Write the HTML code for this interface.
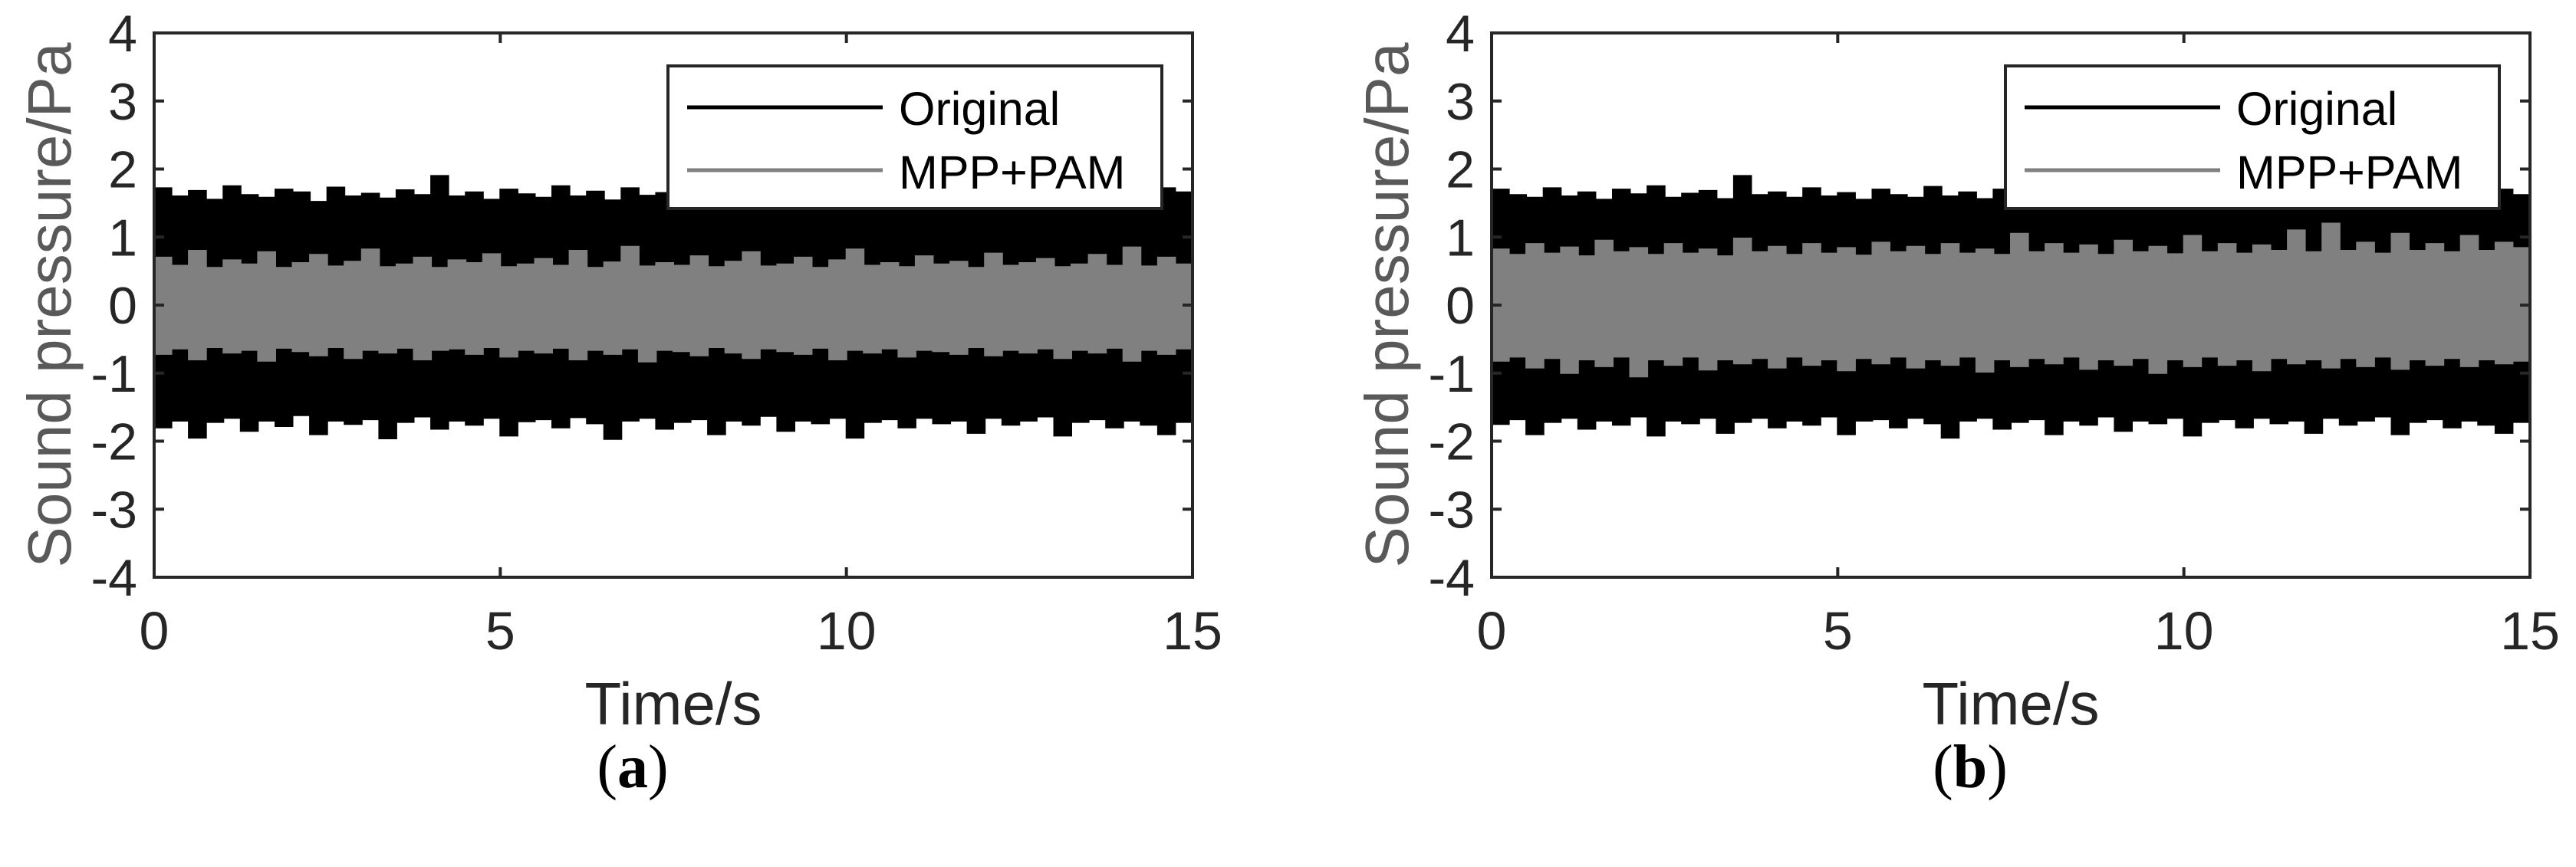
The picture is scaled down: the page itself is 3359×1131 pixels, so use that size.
<!DOCTYPE html>
<html><head><meta charset="utf-8">
<style>
html,body{margin:0;padding:0;background:#fff;}
svg{display:block;}
</style></head>
<body>
<svg id="fig" width="3359" height="1131" viewBox="0 0 3359 1131" xmlns="http://www.w3.org/2000/svg"></svg>
<script>
// Envelope values (Pa), 60 bins across 0–15 s
const origUpperA=[1.72,1.6,1.68,1.55,1.75,1.62,1.58,1.7,1.66,1.52,1.73,1.6,1.64,1.57,1.69,1.62,1.9,1.6,1.66,1.55,1.7,1.63,1.58,1.75,1.6,1.67,1.54,1.72,1.61,1.65,1.78,1.58,1.63,1.7,1.56,1.66,1.6,1.73,1.55,1.64,1.69,1.58,1.72,1.6,1.66,1.53,1.7,1.62,1.57,1.74,1.6,1.65,1.68,1.56,1.71,1.6,1.64,1.58,1.72,1.66];
const origLowerA=[-1.8,-1.7,-1.95,-1.72,-1.66,-1.85,-1.7,-1.78,-1.62,-1.9,-1.7,-1.75,-1.68,-1.96,-1.72,-1.64,-1.82,-1.7,-1.76,-1.66,-1.92,-1.71,-1.68,-1.8,-1.65,-1.74,-1.97,-1.7,-1.66,-1.82,-1.72,-1.68,-1.9,-1.7,-1.76,-1.63,-1.85,-1.7,-1.74,-1.66,-1.95,-1.72,-1.68,-1.8,-1.66,-1.74,-1.7,-1.88,-1.66,-1.76,-1.7,-1.64,-1.92,-1.72,-1.68,-1.8,-1.7,-1.76,-1.9,-1.72];
const mppUpperA=[0.7,0.58,0.8,0.55,0.66,0.6,0.78,0.55,0.62,0.74,0.57,0.64,0.82,0.56,0.6,0.7,0.55,0.66,0.62,0.75,0.56,0.6,0.68,0.58,0.8,0.55,0.63,0.86,0.57,0.62,0.58,0.72,0.56,0.64,0.78,0.57,0.6,0.7,0.55,0.66,0.82,0.58,0.62,0.56,0.72,0.6,0.64,0.55,0.76,0.58,0.62,0.68,0.56,0.6,0.74,0.58,0.85,0.57,0.7,0.6];
const mppLowerA=[-0.72,-0.64,-0.8,-0.62,-0.7,-0.66,-0.82,-0.63,-0.68,-0.74,-0.62,-0.78,-0.66,-0.7,-0.63,-0.8,-0.66,-0.64,-0.72,-0.62,-0.76,-0.66,-0.7,-0.63,-0.8,-0.66,-0.72,-0.64,-0.83,-0.66,-0.68,-0.74,-0.62,-0.7,-0.78,-0.64,-0.68,-0.72,-0.63,-0.8,-0.66,-0.7,-0.64,-0.76,-0.66,-0.68,-0.72,-0.62,-0.74,-0.66,-0.7,-0.64,-0.78,-0.66,-0.7,-0.63,-0.82,-0.66,-0.72,-0.64];
const origUpperB=[1.7,1.62,1.58,1.72,1.6,1.66,1.55,1.7,1.63,1.75,1.58,1.64,1.68,1.56,1.9,1.62,1.66,1.58,1.72,1.6,1.65,1.55,1.7,1.62,1.58,1.74,1.6,1.66,1.56,1.7,1.62,1.6,1.66,1.55,1.72,1.62,1.58,1.68,1.6,1.64,1.56,1.7,1.62,1.66,1.58,1.72,1.6,1.64,1.56,1.7,1.62,1.66,1.58,1.68,1.6,1.64,1.72,1.58,1.7,1.62];
const origLowerB=[-1.75,-1.68,-1.9,-1.72,-1.66,-1.82,-1.7,-1.76,-1.64,-1.92,-1.7,-1.74,-1.66,-1.88,-1.72,-1.66,-1.8,-1.7,-1.76,-1.64,-1.9,-1.7,-1.68,-1.8,-1.66,-1.74,-1.95,-1.7,-1.66,-1.82,-1.72,-1.68,-1.9,-1.7,-1.76,-1.64,-1.85,-1.7,-1.74,-1.66,-1.92,-1.72,-1.68,-1.8,-1.66,-1.74,-1.7,-1.88,-1.66,-1.76,-1.7,-1.64,-1.9,-1.72,-1.68,-1.8,-1.7,-1.76,-1.88,-1.72];
const mppUpperB=[0.82,0.74,0.9,0.76,0.85,0.72,0.95,0.78,0.84,0.74,0.9,0.76,0.82,0.72,0.98,0.78,0.86,0.74,0.9,0.76,0.84,0.73,0.92,0.78,0.86,0.74,0.9,0.76,0.82,0.74,1.05,0.78,0.9,0.76,0.88,0.74,0.95,0.78,0.86,0.75,1.02,0.78,0.9,0.76,0.88,0.8,1.1,0.78,1.2,0.8,0.92,0.76,1.05,0.8,0.9,0.78,1.02,0.8,0.92,0.84];
const mppLowerB=[-0.82,-0.76,-0.92,-0.78,-1.0,-0.8,-0.9,-0.76,-1.05,-0.8,-0.88,-0.76,-0.95,-0.8,-0.86,-0.78,-0.92,-0.76,-0.88,-0.8,-0.96,-0.78,-0.86,-0.76,-0.92,-0.8,-0.88,-0.76,-0.98,-0.8,-0.9,-0.78,-0.86,-0.76,-0.94,-0.8,-0.88,-0.78,-1.0,-0.8,-0.9,-0.76,-0.88,-0.8,-0.96,-0.78,-0.86,-0.8,-0.92,-0.78,-0.9,-0.76,-0.94,-0.8,-0.88,-0.78,-0.9,-0.8,-0.86,-0.82];
const yTicks=[4,3,2,1,0,-1,-2,-3,-4];
const xTicks=[0,5,10,15];
const legendLabels=["Original","MPP+PAM"];
const captions=["(a)","(b)"];

const NS="http://www.w3.org/2000/svg";
const svg=document.getElementById('fig');
function mk(tag,attrs,parent){const e=document.createElementNS(NS,tag);for(const k in attrs)e.setAttribute(k,attrs[k]);(parent||svg).appendChild(e);return e;}

function panel(ox,data,cap,pname){
  const L=ox+201,R=ox+1555,T=43,B=753;
  const xs=t=>L+(R-L)*t/15;
  const ys=v=>T+(B-T)*(4-v)/8;
  const g=mk('g',{});
  
  
  const band=(up,lo,col,name)=>{
    const n=up.length;let d='';
    // stepped envelope: each bin spans 15/n seconds
    for(let i=0;i<n;i++){
      const x0=xs(15*i/n).toFixed(1),x1=xs(15*(i+1)/n).toFixed(1),y=ys(up[i]).toFixed(1);
      d+=(i?'L':'M')+x0+' '+y+'L'+x1+' '+y;
    }
    for(let i=n-1;i>=0;i--){
      const x0=xs(15*i/n).toFixed(1),x1=xs(15*(i+1)/n).toFixed(1),y=ys(lo[i]).toFixed(1);
      d+='L'+x1+' '+y+'L'+x0+' '+y;
    }
    const p=mk('path',{d:d+'Z',fill:col,stroke:col,'stroke-width':2},g);
    
    
  };
  band(data[0],data[1],'#000','series-original');
  band(data[2],data[3],'#808080','series-mpp-pam');
  yTicks.forEach(v=>{
    mk('line',{x1:L,x2:L+13,y1:ys(v),y2:ys(v),stroke:'#262626','stroke-width':4},g);
    mk('line',{x1:R-13,x2:R,y1:ys(v),y2:ys(v),stroke:'#262626','stroke-width':4},g);
    const t=mk('text',{x:L-22,y:ys(v)+24,'text-anchor':'end','font-family':'Liberation Sans, sans-serif','font-size':68,fill:'#262626'},g);
    t.textContent=v;
    
    
  });
  xTicks.forEach(v=>{
    mk('line',{x1:xs(v),x2:xs(v),y1:B,y2:B-13,stroke:'#262626','stroke-width':4},g);
    mk('line',{x1:xs(v),x2:xs(v),y1:T,y2:T+13,stroke:'#262626','stroke-width':4},g);
    const t=mk('text',{x:xs(v),y:847,'text-anchor':'middle','font-family':'Liberation Sans, sans-serif','font-size':70,fill:'#262626'},g);
    t.textContent=v;
    
    
  });
  mk('rect',{x:L,y:T,width:R-L,height:B-T,fill:'none',stroke:'#262626','stroke-width':4},g);
  const lg=mk('g',{},g);
  
  
  mk('rect',{x:ox+871,y:86,width:644,height:186,fill:'#fff',stroke:'#262626','stroke-width':4},lg);
  mk('line',{x1:ox+896,x2:ox+1151,y1:140,y2:140,stroke:'#000','stroke-width':5},lg);
  mk('line',{x1:ox+896,x2:ox+1151,y1:222,y2:222,stroke:'#808080','stroke-width':5},lg);
  const t1=mk('text',{x:ox+1172,y:163,'font-family':'Liberation Sans, sans-serif','font-size':61,fill:'#000'},lg);t1.textContent=legendLabels[0];
  const t2=mk('text',{x:ox+1172,y:246,'font-family':'Liberation Sans, sans-serif','font-size':61,fill:'#000'},lg);t2.textContent=legendLabels[1];
  const yl=mk('text',{x:0,y:0,transform:`translate(${ox+92},398) rotate(-90)`,'text-anchor':'middle','font-family':'Liberation Sans, sans-serif','font-size':80,fill:'#595959'},g);
  yl.textContent='Sound pressure/Pa';
  
  
  const xl=mk('text',{x:(L+R)/2,y:945,'text-anchor':'middle','font-family':'Liberation Sans, sans-serif','font-size':78,fill:'#262626'},g);
  xl.textContent='Time/s';
  
  
  const c=mk('text',{x:ox+825,y:1027,'text-anchor':'middle','font-family':'Liberation Serif, serif','font-size':80,fill:'#000'},g);
  c.innerHTML='(<tspan font-weight="bold">'+cap.slice(1,-1)+'</tspan>)';
  
  
}
panel(0,[origUpperA,origLowerA,mppUpperA,mppLowerA],captions[0],'panel-a');
panel(1744,[origUpperB,origLowerB,mppUpperB,mppLowerB],captions[1],'panel-b');
</script>
</body></html>
